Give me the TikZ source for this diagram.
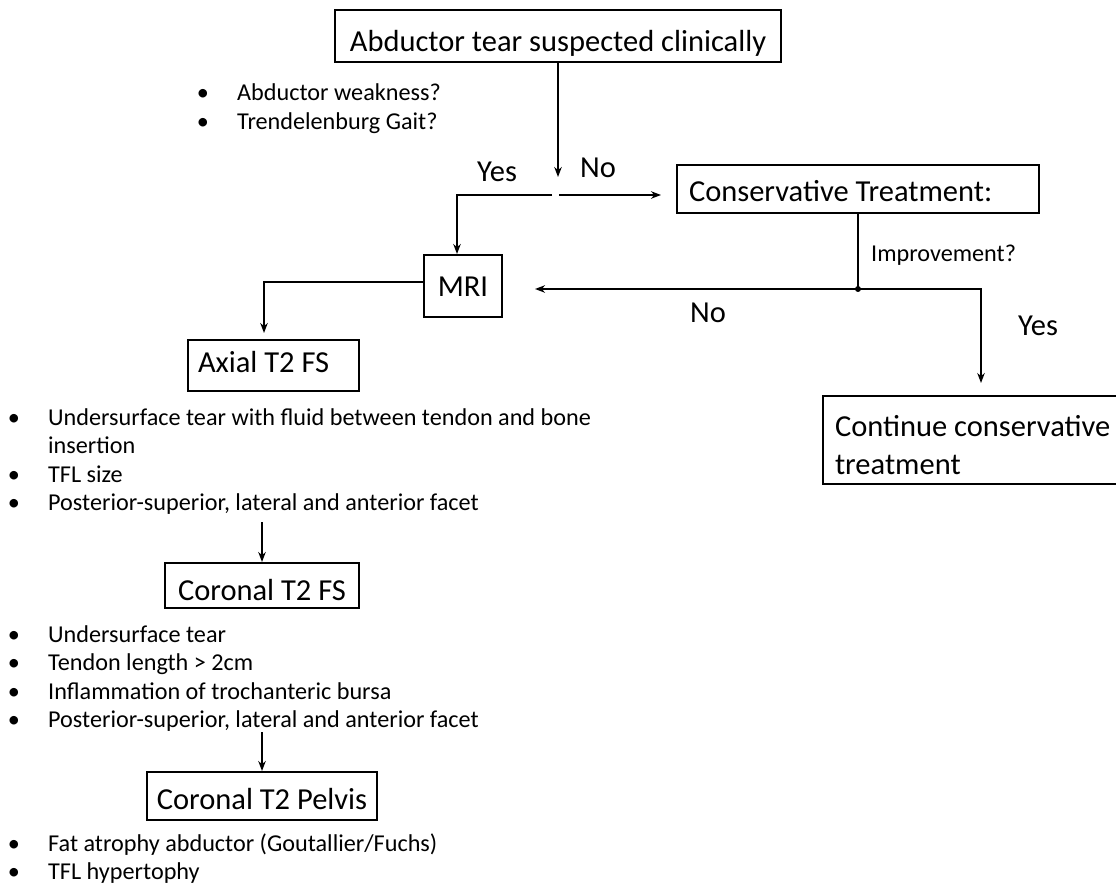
\documentclass[tikz,border=0pt]{standalone}
\usepackage{fontspec}
\setmainfont{Carlito}
\usetikzlibrary{arrows.meta}
\begin{document}
\begin{tikzpicture}[x=1pt,y=-1pt,
  box/.style={draw, line width=2pt, inner ysep=0pt, inner xsep=0pt, font=\fontsize{30.5}{38}\selectfont},
  conn/.style={line width=1.9pt},
  arr/.style={conn, -{Stealth[length=10pt,width=7.5pt]}},
  lbl/.style={inner sep=0pt, anchor=base west, font=\fontsize{30.5}{36}\selectfont},
  sml/.style={inner sep=0pt, anchor=base west, font=\fontsize{24.2}{28.5}\selectfont},
]
\useasboundingbox (0,0) rectangle (1116,885);

% boxes
\node[box, minimum width=446pt, text height=41.7pt, text depth=10.3pt] (top) at (558,36) {Abductor tear suspected clinically};
\node[box, text width=338pt, inner xsep=12pt, align=flush left, text height=36.7pt, text depth=11.3pt] (cons) at (858,189) {Conservative Treatment:};
\node[box, minimum width=78pt, text height=41.5pt, text depth=20.5pt] (mri) at (463,286) {MRI};
\node[box, text width=151pt, inner xsep=10pt, align=flush left, text height=32pt, text depth=19pt] (axial) at (273.5,365.5) {Axial T2 FS};
\node[box, minimum width=194pt, text height=37.7pt, text depth=7.3pt] (cfs) at (262,585.5) {Coronal T2 FS};
\node[box, minimum width=230pt, text height=37.3pt, text depth=10.7pt] (cp) at (262,796) {Coronal T2 Pelvis};
\node[box, anchor=north west, text width=300pt, inner xsep=12pt, align=flush left] (cont) at (822,395) {\rule{0pt}{40pt}Continue conservative\\treatment\rule[-10pt]{0pt}{10pt}};

% labels
\node[lbl] (yes1) at (477,182) {Yes};
\node[lbl] (no1) at (580,178) {No};
\node[sml] (impr) at (871,261.7) {Improvement?};
\node[lbl] (no2) at (690,322.7) {No};
\node[lbl] (yes2) at (1018,335) {Yes};

% bullet lists
\node[sml, font=\fontsize{24.2}{29}\selectfont] (l0) at (196.6,100.5) {\begin{tabular}[t]{@{}p{40.4pt}@{}l@{}}•&Abductor weakness?\\•&Trendelenburg Gait?\end{tabular}};
\node[sml, font=\fontsize{24.2}{28.5}\selectfont] (l1) at (7.6,425) {\begin{tabular}[t]{@{}p{40.4pt}@{}l@{}}•&Undersurface tear with fluid between tendon and bone\\&insertion\\•&TFL size\\•&Posterior-superior, lateral and anterior facet\end{tabular}};
\node[sml, font=\fontsize{24.2}{28.5}\selectfont] (l2) at (7.6,642) {\begin{tabular}[t]{@{}p{40.4pt}@{}l@{}}•&Undersurface tear\\•&Tendon length > 2cm\\•&Inflammation of trochanteric bursa\\•&Posterior-superior, lateral and anterior facet\end{tabular}};
\node[sml, font=\fontsize{24.2}{28}\selectfont] (l3) at (7.6,851.5) {\begin{tabular}[t]{@{}p{40.4pt}@{}l@{}}•&Fat atrophy abductor (Goutallier/Fuchs)\\•&TFL hypertophy\end{tabular}};

% coordinates
\coordinate (ta) at (558,177);
\coordinate (sl) at (552,195);
\coordinate (sr) at (559,195);
\coordinate (cta) at (661,195);
\coordinate (jn) at (858,289);
\coordinate (mria) at (535,289);
\coordinate (ca) at (981,383);
\coordinate (axa) at (264,333);
\coordinate (a2c) at (262,522);
\coordinate (c2p) at (262,732);

% connectors
\draw[arr] (top.south) -- (ta);
\draw[arr] (sl) -| ([xshift=-6pt]mri.north);
\draw[arr] (sr) -- (cta);
\draw[conn] (cons.south) -- (jn);
\draw[arr] (jn) -- (mria);
\draw[arr] (jn) -| (ca);
\fill (jn) circle (3pt);
\draw[arr] ([yshift=4pt]mri.west) -| (axa);
\draw[arr] (a2c) -- (cfs.north);
\draw[arr] (c2p) -- (cp.north);
\end{tikzpicture}
\end{document}
